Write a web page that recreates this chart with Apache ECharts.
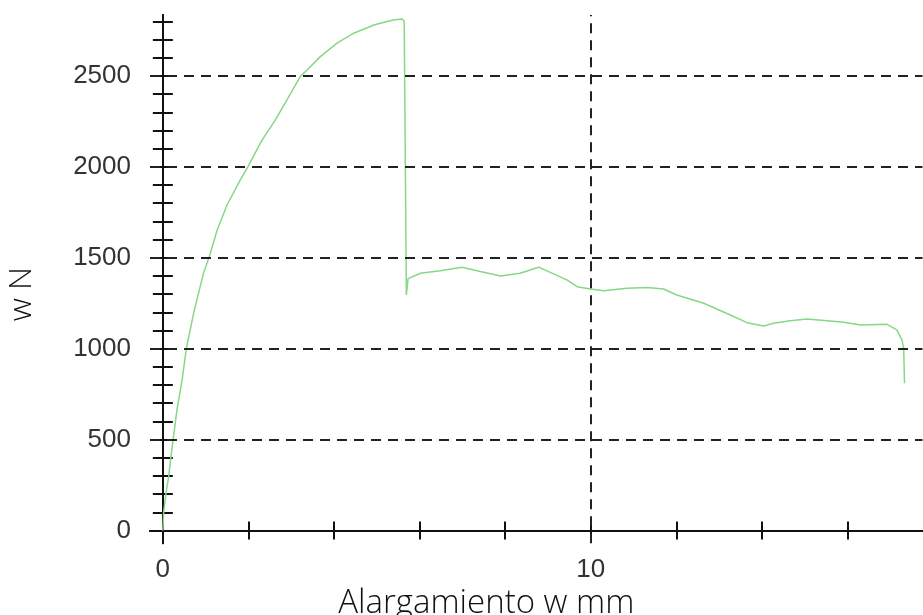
<!DOCTYPE html>
<html>
<head>
<meta charset="utf-8">
<script src="https://cdn.jsdelivr.net/npm/echarts@6/dist/echarts.min.js"></script>
<style>
  html, body { margin: 0; padding: 0; background: #fff; }
  #main { width: 923px; height: 615px; }
</style>
</head>
<body>
<div id="main"></div>
<script>
// elongation in mm and force in N
var elongation = [0, 0.02, 0.075, 0.135, 0.19, 0.24, 0.33, 0.45, 0.55, 0.72, 0.95, 1.09, 1.27, 1.5, 1.81,
  2.0, 2.3, 2.63, 2.9, 3.21, 3.37, 3.68, 4.07, 4.46, 4.93, 5.24, 5.39, 5.59, 5.64,
  5.66, 5.69, 5.73, 5.75, 6.02, 6.48, 6.99, 7.42, 7.89, 8.35, 8.78, 9.13, 9.44, 9.68, 9.99,
  10.3, 10.85, 11.31, 11.7, 12.01, 12.64, 13.26, 13.65, 14.04, 14.27, 14.66, 15.05, 15.52,
  15.91, 16.3, 16.92, 17.15, 17.27, 17.31, 17.33];
var force = [0, 103, 205, 296, 406, 498, 663, 828, 1002, 1195, 1415, 1510, 1653, 1790, 1928,
  2005, 2140, 2258, 2368, 2496, 2533, 2606, 2680, 2735, 2780, 2799, 2808, 2813, 2800,
  2200, 1295, 1385, 1390, 1415, 1429, 1448, 1424, 1400, 1415, 1448, 1411, 1378, 1341, 1328,
  1319, 1332, 1336, 1328, 1295, 1250, 1185, 1143, 1125, 1140, 1154, 1163, 1154,
  1145, 1130, 1134, 1103, 1048, 1002, 810];

var xTicks = [0, 2, 4, 6, 8, 10, 12, 14, 16];
var xLabels = [0, 10];
var yTicks = [];
for (var v = 0; v <= 2800; v += 100) yTicks.push(v);
var yLabels = [0, 500, 1000, 1500, 2000, 2500];
var gridY = [500, 1000, 1500, 2000, 2500];
var gridX = [10];

var data = elongation.map(function (x, i) { return [x, force[i]]; });

var axisColor = '#111';
var dash = { type: [10, 7], color: '#222', width: 2 };
var plain = function (val) { return String(val); };

function xAx(withLabels, inside) {
  return {
    type: 'value', min: -0.3, max: 17.75, position: 'bottom',
    axisLine: { show: true, onZero: true, lineStyle: { color: axisColor, width: 2 } },
    axisTick: { show: true, inside: inside, length: 9, customValues: xTicks, lineStyle: { color: axisColor, width: 2 } },
    axisLabel: { show: withLabels, customValues: xLabels, margin: 14, formatter: plain,
      fontFamily: 'Liberation Sans', fontSize: 26, color: '#333' },
    splitLine: { show: false }
  };
}
function yAx(withLabels, inside) {
  return {
    type: 'value', min: -70, max: 2835, position: 'left',
    axisLine: { show: true, onZero: true, lineStyle: { color: axisColor, width: 2 } },
    axisTick: { show: true, inside: inside, length: 10, customValues: yTicks, lineStyle: { color: axisColor, width: 2 } },
    axisLabel: { show: withLabels, customValues: yLabels, margin: 19, formatter: plain,
      fontFamily: 'Liberation Sans', fontSize: 26, color: '#333' },
    splitLine: { show: false }
  };
}

var xMain = xAx(true, false);
xMain.name = 'Alargamiento w mm';
xMain.nameLocation = 'middle';
xMain.nameGap = 44;
xMain.nameMoveOverlap = false;
xMain.nameTextStyle = { fontFamily: 'Open Sans', fontWeight: 300, fontSize: 33, color: '#111', padding: [0, 100, 0, 0] };

var yMain = yAx(true, false);
yMain.name = 'w N';
yMain.nameLocation = 'middle';
yMain.nameGap = 112;
yMain.nameMoveOverlap = false;
yMain.nameTextStyle = { fontFamily: 'Open Sans', fontWeight: 300, fontSize: 32, color: '#111', padding: [0, 30, 0, 0] };

var chart = echarts.init(document.getElementById('main'));
chart.setOption({
  animation: false,
  backgroundColor: '#fff',
  grid: { left: 150, top: 15, width: 772.5, height: 528.2, containLabel: false, outerBoundsMode: 'none' },
  xAxis: [xMain, xAx(false, true)],
  yAxis: [yMain, yAx(false, true)],
  series: [{
    type: 'line',
    xAxisIndex: 0, yAxisIndex: 0,
    data: data,
    showSymbol: false,
    lineStyle: { color: '#86d886', width: 1.5 },
    z: 3,
    markLine: {
      silent: true,
      symbol: ['none', 'none'],
      label: { show: false },
      lineStyle: dash,
      emphasis: { disabled: true },
      data: gridY.map(function (y) { return { yAxis: y }; })
        .concat(gridX.map(function (x) { return { xAxis: x }; }))
    }
  }]
});
</script>
</body>
</html>
